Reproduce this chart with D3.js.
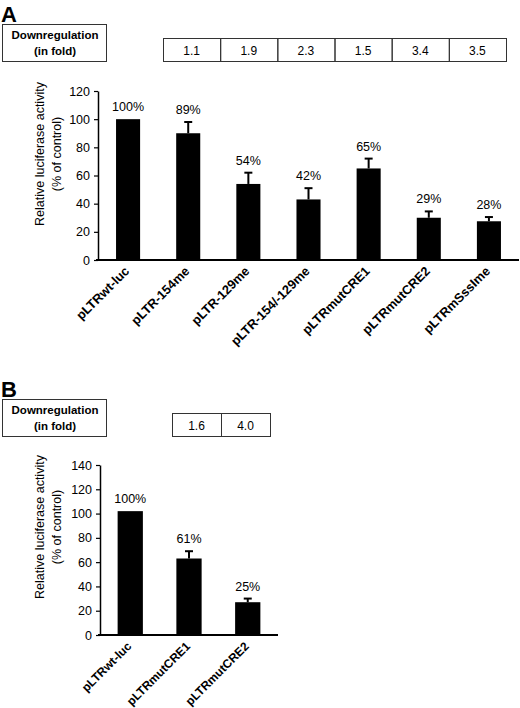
<!DOCTYPE html>
<html><head><meta charset="utf-8">
<script src="https://cdn.jsdelivr.net/npm/d3@7"></script>
<style>
body{margin:0;background:#fff;}
text{font-family:"Liberation Sans",Arial,sans-serif;}
</style></head>
<body><svg id="c" width="520" height="708"></svg>
<script>
// ---- Data ----
const catsA = ["pLTRwt-luc","pLTR-154me","pLTR-129me","pLTR-154/-129me","pLTRmutCRE1","pLTRmutCRE2","pLTRmSssIme"];
const valsA = [100, 90, 54, 43, 65, 30, 27.5];
const errA  = [0, 8, 8, 8, 7, 4.5, 3];
const pctA  = ["100%","89%","54%","42%","65%","29%","28%"];
const foldA = ["1.1","1.9","2.3","1.5","3.4","3.5"];
const ticksA = [0,20,40,60,80,100,120];

const catsB = ["pLTRwt-luc","pLTRmutCRE1","pLTRmutCRE2"];
const valsB = [102, 63, 27];
const errB  = [0, 6, 3];
const pctB  = ["100%","61%","25%"];
const foldB = ["1.6","4.0"];
const ticksB = [0,20,40,60,80,100,120,140];

const svg = d3.select("#c");

function panel(o){
  const g = svg.append("g");
  g.append("text").attr("x",1).attr("y",o.letterY).attr("font-size",22).attr("font-weight","bold").text(o.letter);
  g.append("rect").attr("x",2.5).attr("y",o.boxY+0.5).attr("width",104).attr("height",37)
    .attr("fill","none").attr("stroke","#333").attr("stroke-width",1);
  g.append("text").attr("x",55).attr("y",o.boxY+15).attr("text-anchor","middle").attr("font-size",11.5).attr("font-weight","bold").text("Downregulation");
  g.append("text").attr("x",55).attr("y",o.boxY+31).attr("text-anchor","middle").attr("font-size",11.5).attr("font-weight","bold").text("(in fold)");
  const fx = d3.scaleBand().domain(d3.range(o.fold.length)).range(o.foldRange);
  const cells = g.selectAll(".cell").data(o.fold).join("g");
  cells.append("rect").attr("x",(d,i)=>fx(i)+0.5).attr("y",o.foldY+0.5).attr("width",fx.bandwidth()).attr("height",23)
    .attr("fill","none").attr("stroke","#333").attr("stroke-width",1);
  cells.append("text").attr("x",(d,i)=>fx(i)+fx.bandwidth()/2).attr("y",o.foldY+16.5).attr("text-anchor","middle")
    .attr("font-size",12).text(d=>d);

  const y = d3.scaleLinear().domain([0,o.ymax]).range([o.y0,o.y1]);
  const x = d3.scaleBand().domain(o.cats).range([o.x0,o.x1]).paddingInner(o.pin).paddingOuter(o.pout);

  const ya = g.append("g").attr("transform",`translate(${o.x0},0)`)
    .call(d3.axisLeft(y).tickValues(o.ticks).tickSize(4).tickSizeOuter(0).tickPadding(4));
  ya.select(".domain").attr("stroke","#000").attr("stroke-width",1.5);
  ya.selectAll(".tick line").attr("stroke","#000").attr("stroke-width",1.2);
  ya.selectAll("text").attr("font-size",12.5).attr("fill","#000")
    .style("font-family","Liberation Sans, Arial");

  g.selectAll(".bar").data(o.vals).join("rect")
    .attr("x",(d,i)=>x(o.cats[i])).attr("width",x.bandwidth())
    .attr("y",d=>y(d)).attr("height",d=>y(0)-y(d)).attr("fill","#000");
  o.vals.forEach((v,i)=>{
    if(!o.err[i]) return;
    const cx = x(o.cats[i])+x.bandwidth()/2;
    g.append("line").attr("x1",cx).attr("x2",cx).attr("y1",y(v)).attr("y2",y(v+o.err[i])).attr("stroke","#000").attr("stroke-width",2);
    g.append("line").attr("x1",cx-4).attr("x2",cx+4).attr("y1",y(v+o.err[i])).attr("y2",y(v+o.err[i])).attr("stroke","#000").attr("stroke-width",2);
  });
  g.selectAll(".pct").data(o.pct).join("text")
    .attr("x",(d,i)=>x(o.cats[i])+x.bandwidth()/2)
    .attr("y",(d,i)=>y(o.vals[i]+o.err[i])-8)
    .attr("text-anchor","middle").attr("font-size",12.5).text(d=>d);

  g.append("line").attr("x1",o.x0-2).attr("x2",o.x1).attr("y1",y(0)).attr("y2",y(0)).attr("stroke","#000").attr("stroke-width",1.8);
  g.selectAll(".xl").data(o.cats).join("text")
    .attr("transform",d=>`translate(${x(d)+x.bandwidth()/2+2},${y(0)+12}) rotate(-45)`)
    .attr("text-anchor","end").attr("font-size",o.lblSize).attr("font-weight","bold").text(d=>d);

  const tg = g.append("g").attr("transform",`translate(0,${o.titleY}) rotate(-90)`);
  tg.append("text").attr("x",0).attr("y",44).attr("text-anchor","middle").attr("font-size",12.5).text("Relative luciferase activity");
  tg.append("text").attr("x",0).attr("y",61).attr("text-anchor","middle").attr("font-size",12.5).text("(% of control)");
}

panel({letter:"A",letterY:22,boxY:24,fold:foldA,foldRange:[163,506],foldY:38,lblSize:12.8,
  cats:catsA,vals:valsA,err:errA,pct:pctA,ticks:ticksA,ymax:120,y0:260,y1:91,x0:98,x1:519,pin:0.6,pout:0.3,titleY:154});
panel({letter:"B",letterY:397,boxY:399,fold:foldB,foldRange:[172,270],foldY:413,lblSize:12,
  cats:catsB,vals:valsB,err:errB,pct:pctB,ticks:ticksB,ymax:140,y0:635,y1:465,x0:100,x1:278,pin:0.57,pout:0.3,titleY:527});
</script></body></html>
